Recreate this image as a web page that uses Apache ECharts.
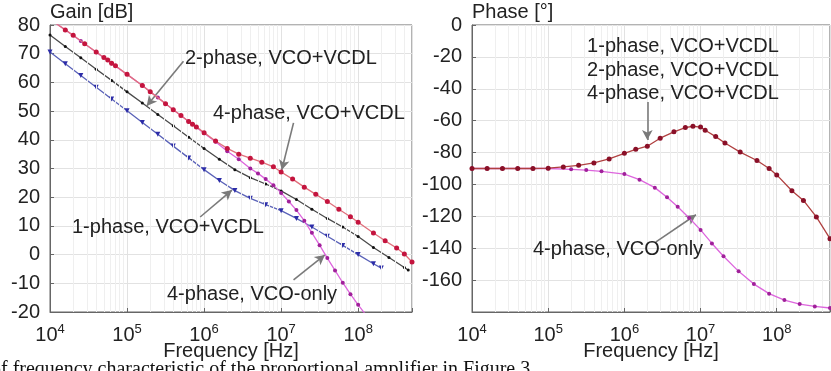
<!DOCTYPE html>
<html>
<head>
<meta charset="utf-8">
<script src="https://cdn.jsdelivr.net/npm/echarts@6/dist/echarts.min.js"></script>
<style>
html,body{margin:0;padding:0;background:#fff;}
#chart{width:831px;height:371px;}
</style>
</head>
<body>
<div id="chart"></div>
<script>
// gain, 4-phase VCO+VCDL
var fRed = [1e4, 1.58e4, 2e4, 2.82e4, 3.98e4, 5.01e4, 5.62e4, 6.31e4, 7.08e4, 1e5, 1.58e5, 2e5, 3.16e5, 3.98e5, 5.01e5, 6.31e5, 7.08e5, 7.94e5, 1e6, 1.41e6, 2e6, 2.82e6, 3.98e6, 5.62e6, 7.94e6, 1e7, 1.41e7, 2e7, 2.82e7, 3.98e7, 5.62e7, 7.94e7, 1e8, 1.58e8, 2.24e8, 3.16e8, 3.98e8, 5e8];
var gRed = [82.0, 78.3, 76.4, 73.5, 70.6, 68.7, 67.8, 66.7, 65.8, 62.8, 58.9, 56.7, 52.6, 50.5, 48.5, 46.4, 45.4, 44.5, 42.5, 39.6, 37.0, 35.0, 33.6, 32.2, 30.6, 28.8, 26.3, 23.5, 21.0, 18.5, 15.8, 13.2, 11.3, 7.5, 4.8, 2.3, 0.2, -2.6];
// gain, 2-phase VCO+VCDL
var fBlack = [1e4, 1.58e4, 2.51e4, 3.98e4, 6.31e4, 1e5, 1.58e5, 2.51e5, 3.98e5, 6.31e5, 1e6, 1.58e6, 2.51e6, 3.98e6, 6.31e6, 1e7, 1.58e7, 2.51e7, 3.98e7, 6.31e7, 1e8, 1.58e8, 2.51e8, 3.98e8, 4.47e8];
var gBlack = [76.5, 72.5, 68.6, 64.6, 60.7, 56.7, 52.8, 48.8, 44.9, 40.9, 37.0, 33.2, 29.6, 26.8, 24.6, 22.2, 19.2, 15.8, 12.6, 9.6, 6.3, 2.5, -1.0, -4.5, -5.4];
// gain, 1-phase VCO+VCDL
var fBlue = [1e4, 1.58e4, 2.51e4, 3.98e4, 6.31e4, 1e5, 1.58e5, 2.51e5, 3.98e5, 6.31e5, 1e6, 1.58e6, 2.51e6, 3.98e6, 6.31e6, 1e7, 1.58e7, 2.51e7, 3.98e7, 6.31e7, 1e8, 1.58e8, 2e8];
var gBlue = [70.6, 66.5, 62.4, 58.3, 54.2, 50.1, 46.0, 41.9, 37.8, 33.7, 29.6, 25.8, 22.3, 19.6, 17.4, 15.3, 12.6, 9.6, 6.4, 3.2, 0.0, -3.2, -4.7];
// gain, 4-phase VCO-only
var fMag = [1e4, 1.58e4, 2.51e4, 3.98e4, 6.31e4, 1e5, 1.58e5, 2.51e5, 3.98e5, 6.31e5, 1e6, 1.41e6, 2e6, 2.82e6, 3.98e6, 5.01e6, 6.31e6, 7.94e6, 1e7, 1.26e7, 1.58e7, 2e7, 2.51e7, 3.16e7, 3.98e7, 5.01e7, 6.31e7, 7.94e7, 1e8, 1.26e8, 1.58e8];
var gMag = [82, 78.3, 74.4, 70.5, 66.6, 62.8, 58.9, 54.7, 50.5, 46.4, 42.3, 39.3, 36.0, 33.2, 30.0, 28.3, 26.3, 24.2, 21.5, 18.5, 15.5, 11.8, 7.6, 3.3, -1.2, -5.5, -9.8, -13.8, -17.5, -21.0, -24.5];

// phase, 1/2/4-phase VCO+VCDL (overlapping)
var fPhRed = [1e4, 1.58e4, 2.51e4, 3.98e4, 6.31e4, 1e5, 1.58e5, 2.51e5, 3.98e5, 6.31e5, 1e6, 1.41e6, 2e6, 2.95e6, 4.47e6, 6.31e6, 7.94e6, 1e7, 1.15e7, 1.58e7, 2.09e7, 3.31e7, 5.5e7, 7.94e7, 1e8, 1.58e8, 2.24e8, 3.31e8, 5e8];
var pRed = [-90, -90, -90, -90, -90, -89.8, -89, -88, -86.5, -84, -80.5, -78, -76, -71, -67, -64.3, -63.5, -64, -66, -70, -74, -79.7, -85, -90, -94, -104, -110, -120.4, -134];
// phase, 4-phase VCO-only
var fPhMag = [1e4, 1.58e4, 2.51e4, 3.98e4, 6.31e4, 1e5, 2e5, 3.16e5, 5.01e5, 1e6, 1.58e6, 2.51e6, 3.63e6, 5.01e6, 7.08e6, 1e7, 1.41e7, 2e7, 3.16e7, 5.01e7, 7.94e7, 1.26e8, 2e8, 3.16e8, 5e8];
var pMag = [-90, -90, -90, -90, -90, -90, -90.5, -91, -91.8, -93.5, -97, -102, -108, -114, -121, -128.5, -137, -145, -154.5, -162.5, -168.5, -172.5, -175, -176.5, -177.5];

var gainTicks = [-20, 80, 10];
var phaseTicks = [-180, 0, 20];

var FONT = "'Liberation Sans', Arial, sans-serif";

function pairs(xs, ys){
	var out = [];
	for(var i=0; i<xs.length; i++){
		out.push([xs[i], ys[i]]);
	}
	return out;
}

// matlab style minor grid at 2..9 x 10^n
var minorGrid = [];
for(var n=4; n<=8; n++){
	for(var k=2; k<=9; k++){
		if(k*Math.pow(10,n) < 5e8) minorGrid.push({xAxis: k*Math.pow(10,n)});
	}
}

function xAxisOf(idx){
	return {
		type:'log',
		gridIndex:idx,
		logBase:10,
		min:1e4,
		max:5e8,
		name:'Frequency [Hz]',
		nameLocation:'middle',
		nameGap:29,
		nameMoveOverlap:false,
		nameTextStyle:{fontSize:20, color:'#222', fontFamily:FONT},
		axisLine:{onZero:false, lineStyle:{color:'#666'}},
		axisTick:{inside:true, length:4, lineStyle:{color:'#666'}},
		splitLine:{show:true, lineStyle:{color:'#e2e2e2'}},
		axisLabel:{
			margin:11,
			color:'#222',
			fontFamily:FONT,
			formatter:function(v){
				var e = Math.round(Math.log10(v));
				if(Math.abs(Math.log10(v) - e) > 1e-6) return '';
				return '{b|10}{s|' + e + '}';
			},
			rich:{
				b:{fontSize:20, fontFamily:FONT, color:'#222', lineHeight:24},
				s:{fontSize:13, fontFamily:FONT, color:'#222', verticalAlign:'top', lineHeight:14}
			}
		}
	};
}

function yAxisOf(idx, name, t, hide){
	return {
		type:'value',
		gridIndex:idx,
		min:t[0],
		max:t[1],
		interval:t[2],
		name:name,
		nameLocation:'end',
		nameGap:13,
		nameTextStyle:{fontSize:20, color:'#222', fontFamily:FONT, align:'left', verticalAlign:'middle'},
		axisLine:{show:true, onZero:false, lineStyle:{color:'#666'}},
		axisTick:{show:true, inside:true, length:4, lineStyle:{color:'#666'}},
		splitLine:{show:true, lineStyle:{color:'#e2e2e2'}},
		axisLabel:{
			fontSize:20,
			color:'#222',
			fontFamily:FONT,
			margin:10,
			formatter:function(v){ return v === hide ? '' : String(v); }
		}
	};
}

function curve(name, xi, data, lineColor, dotColor, symbol, size, z, rot){
	return {
		name:name,
		type:'line',
		xAxisIndex:xi,
		yAxisIndex:xi,
		data:data,
		symbol:symbol,
		symbolSize:size,
		symbolRotate:rot || 0,
		showSymbol:true,
		clip:true,
		z:z,
		lineStyle:{color:lineColor, width:1.3},
		itemStyle:{color:dotColor, borderWidth:0}
	};
}

function arrows(xi, lines){
	return {
		type:'line',
		xAxisIndex:xi,
		yAxisIndex:xi,
		data:[],
		z:10,
		markLine:{
			silent:true,
			symbol:['none','arrow'],
			symbolSize:[8,10],
			label:{show:false},
			lineStyle:{color:'#7a7a7a', width:1.6, type:'solid'},
			data:lines
		}
	};
}

function minor(xi){
	return {
		type:'line',
		xAxisIndex:xi,
		yAxisIndex:xi,
		data:[],
		z:1,
		markLine:{
			silent:true,
			symbol:['none','none'],
			label:{show:false},
			lineStyle:{color:'#efefef', width:1, type:'solid'},
			data:minorGrid
		}
	};
}

var chart = echarts.init(document.getElementById('chart'), null, {renderer:'canvas'});

var txt = function(x, y, s, align){
	return {
		type:'text',
		x:x,
		y:y,
		z:20,
		style:{text:s, font:'20px ' + FONT, fill:'#222', align:align || 'left', verticalAlign:'middle'}
	};
};

var option = {
	backgroundColor:'#fff',
	animation:false,
	grid:[
		{left:50, top:25, width:362, height:287, show:true, borderColor:'#666', borderWidth:1, containLabel:false, outerBoundsMode:'none'},
		{left:472, top:25, width:358, height:287, show:true, borderColor:'#666', borderWidth:1, containLabel:false, outerBoundsMode:'none'}
	],
	xAxis:[xAxisOf(0), xAxisOf(1)],
	yAxis:[yAxisOf(0, 'Gain [dB]', gainTicks, null), yAxisOf(1, 'Phase [°]', phaseTicks, -180)],
	series:[
		minor(0),
		minor(1),
		curve('1-phase, VCO+VCDL', 0, pairs(fBlue, gBlue), '#5a62b8', '#2c2ca8', 'triangle', 5, 3, 180),
		curve('2-phase, VCO+VCDL', 0, pairs(fBlack, gBlack), '#4a4a4a', '#111', 'circle', 3, 4),
		curve('4-phase, VCO-only', 0, pairs(fMag, gMag), '#dd66dd', '#a0209a', 'circle', 4, 5),
		curve('4-phase, VCO+VCDL', 0, pairs(fRed, gRed), '#e0707c', '#c4143e', 'circle', 5, 6),
		curve('4-phase, VCO-only', 1, pairs(fPhMag, pMag), '#dd66dd', '#a0209a', 'circle', 4, 5),
		curve('VCO+VCDL', 1, pairs(fPhRed, pRed), '#b04040', '#8a1028', 'circle', 5, 6),
		arrows(0, [
			[{coord:[5.4e5, 67.4]}, {coord:[1.8e5, 51.8]}],
			[{coord:[1.45e7, 45.9]}, {coord:[1.02e7, 29.5]}],
			[{coord:[8.9e5, 13.1]}, {coord:[2.3e6, 22.5]}],
			[{coord:[1.45e7, -8.8]}, {coord:[3.7e7, -0.1]}]
		]),
		arrows(1, [
			[{coord:[2e6, -48.3]}, {coord:[2e6, -72.1]}],
			[{coord:[2.6e6, -136]}, {coord:[8.7e6, -119]}]
		])
	],
	graphic:[
		txt(185, 58, '2-phase, VCO+VCDL'),
		txt(213, 113, '4-phase, VCO+VCDL'),
		txt(72, 227, '1-phase, VCO+VCDL'),
		txt(167, 294, '4-phase, VCO-only'),
		txt(683, 46, '1-phase, VCO+VCDL', 'center'),
		txt(683, 70, '2-phase, VCO+VCDL', 'center'),
		txt(683, 93, '4-phase, VCO+VCDL', 'center'),
		txt(533, 249, '4-phase, VCO-only'),
		{
			type:'text',
			x:-9,
			y:360,
			z:20,
			style:{text:'of frequency characteristic of the proportional amplifier in Figure 3.', font:"20px 'Liberation Serif', 'Times New Roman', serif", fill:'#111', align:'left', verticalAlign:'top'}
		}
	]
};

chart.setOption(option);
</script>
</body>
</html>
